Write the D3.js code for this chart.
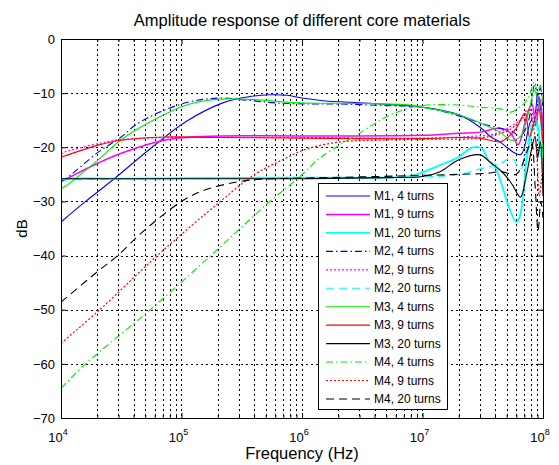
<!DOCTYPE html>
<html>
<head>
<meta charset="utf-8">
<script src="https://cdnjs.cloudflare.com/ajax/libs/d3/7.8.5/d3.min.js"></script>
<style>
  body { margin: 0; background: #fff; }
  text { font-family: Arial, "Liberation Sans", sans-serif; fill: #000; }
</style>
</head>
<body>
<div id="chart"></div>
<script>
// values: [frequency Hz, dB]
var m1_4 = [[1e4,-33.8],[1.6e4,-30],[2.7e4,-26],[5.7e4,-20],[1.1e5,-15.2],[2.2e5,-11.8],[3.5e5,-10.7],[5.4e5,-10.3],[7.5e5,-10.4],[1.0e6,-10.9],[1.5e6,-11.4],[2.1e6,-11.6],[4.5e6,-12.0],[1e7,-12.6],[2.0e7,-14.0],[3.0e7,-16.3],[3.7e7,-18.1],[4.4e7,-19.0],[5.0e7,-20],[5.9e7,-21.1],[6.6e7,-21.3],[7.8e7,-15.5],[8.6e7,-13.7],[9.0e7,-10.5],[9.5e7,-12.5],[1e8,-16.8]];
var m1_9 = [[1e4,-26.3],[1.07e4,-26],[2.04e4,-22.9],[3.16e4,-21.1],[7.2e4,-18.7],[1.5e5,-18.0],[1e6,-17.9],[1e7,-17.8],[2e7,-17.4],[3e7,-17.2],[4.4e7,-16.5],[5.4e7,-17.4],[6.2e7,-19.5],[7.3e7,-14.4],[8.1e7,-12],[8.7e7,-16],[9.4e7,-11],[1e8,-17]];
var m1_20 = [[1e4,-26.3],[1.1e4,-25.9],[3e4,-25.8],[1e5,-25.7],[1e6,-25.6],[5e6,-25.6],[8e6,-25.3],[1.4e7,-23.3],[2e7,-21.8],[2.6e7,-20.0],[3.1e7,-20.2],[3.5e7,-22.3],[4.0e7,-23.6],[4.5e7,-26.6],[5.2e7,-31],[6.0e7,-33.8],[6.4e7,-32.9],[6.9e7,-27.9],[7.3e7,-22.3],[8.1e7,-17],[8.8e7,-15],[9.4e7,-19],[1e8,-24.5]];
var m2_4 = [[1e4,-26.3],[1.07e4,-26],[2.04e4,-20.9],[3.16e4,-18.1],[4.2e4,-15.8],[6.6e4,-13.5],[1.17e5,-11.6],[2.1e5,-10.9],[3.5e5,-11.3],[6e5,-11.8],[1.2e6,-12.0],[2e6,-12.0],[5e6,-12.3],[1e7,-12.6],[2e7,-14.2],[3e7,-15.5],[4.4e7,-16.5],[5.5e7,-17],[6.5e7,-18],[7.6e7,-15],[8.5e7,-8.5],[9e7,-11],[9.5e7,-9],[1e8,-13]];
var m2_9 = [[1e4,-21.2],[1.07e4,-20.9],[2.04e4,-19.3],[3.16e4,-18.6],[7.2e4,-18.2],[1e6,-18.2],[1e7,-18.3],[2.5e7,-18],[4e7,-17.5],[5.5e7,-16],[7e7,-14.5],[7.9e7,-12.6],[8.5e7,-16],[9.2e7,-10.5],[1e8,-15]];
var m2_20 = [[1e4,-26],[1e5,-25.8],[1e6,-25.7],[1e7,-25.5],[2e7,-25],[3e7,-24],[4.4e7,-23],[5.5e7,-22],[6.5e7,-24],[7.5e7,-19],[8.5e7,-14],[9.3e7,-20],[1e8,-25]];
var m3_4 = [[1e4,-27.6],[1.07e4,-27.3],[2.04e4,-22.3],[3.16e4,-18.6],[6.3e4,-14.6],[1.17e5,-12.0],[2.1e5,-11.1],[4e5,-11.2],[9.5e5,-11.8],[3e6,-11.9],[8e6,-12.2],[1e7,-12.6],[2e7,-14.0],[3e7,-15.5],[4.4e7,-17.2],[5.4e7,-18.7],[6.5e7,-18],[7.5e7,-14],[8.5e7,-9.4],[9.2e7,-12],[1e8,-21.8]];
var m3_9 = [[1e4,-21.8],[1.07e4,-21.6],[2.04e4,-19.6],[3.16e4,-18.7],[7.2e4,-18.1],[2e5,-18.2],[1e6,-18.3],[1e7,-18.4],[2e7,-18.2],[3e7,-18.3],[4.4e7,-19],[5.2e7,-18],[6.0e7,-16.5],[7.1e7,-13.7],[7.7e7,-18],[8.5e7,-15],[9.2e7,-13],[1e8,-19.2]];
var m3_20 = [[1e4,-25.8],[1e5,-25.8],[1e6,-25.8],[5e6,-25.6],[1.0e7,-25.4],[1.4e7,-24.5],[2e7,-22.3],[3e7,-21.4],[3.7e7,-22.9],[4.4e7,-24.2],[5e7,-25.5],[5.6e7,-27],[6.5e7,-29.2],[7.3e7,-25],[8.1e7,-20],[8.6e7,-18],[9.0e7,-22],[9.5e7,-19],[1e8,-29]];
var m4_4 = [[1e4,-64.5],[1.6e4,-60],[5.5e4,-50],[1.75e5,-40],[3.1e5,-34.9],[5.6e5,-29.7],[7.9e5,-27],[1.1e6,-24.2],[1.4e6,-22],[3e6,-17.4],[5e6,-14.4],[7.9e6,-12.7],[1.1e7,-12.2],[2e7,-12.2],[3e7,-12.6],[4.4e7,-12.9],[5.4e7,-13.5],[6.5e7,-12.5],[7.5e7,-11],[8.5e7,-7.9],[9e7,-10],[9.5e7,-8.5],[1e8,-12.6]];
var m4_9 = [[1e4,-56.2],[2.1e4,-50],[6.3e4,-40],[2.1e5,-30],[4e5,-25.1],[6.9e5,-22.3],[1.1e6,-20.3],[2.1e6,-19],[4e6,-18.7],[1e7,-18.5],[2e7,-18.5],[3e7,-18.3],[4.4e7,-17.5],[5.5e7,-16.5],[6.5e7,-15],[7.5e7,-13],[8.1e7,-15],[8.8e7,-20],[9.3e7,-29],[9.7e7,-26],[1e8,-22]];
var m4_20 = [[1e4,-48.6],[2e4,-43],[2.95e4,-40],[5e4,-35.2],[1.05e5,-29.7],[1.6e5,-27.8],[2.9e5,-26.4],[4.5e5,-25.9],[1e6,-25.7],[1e7,-25.2],[2e7,-25],[3.4e7,-24.8],[4.5e7,-24.5],[6e7,-25],[7.3e7,-21],[8e7,-19],[8.6e7,-27],[9.1e7,-35.5],[9.6e7,-30],[1e8,-33]];

var seriesNames = ["M1, 4 turns","M1, 9 turns","M1, 20 turns","M2, 4 turns","M2, 9 turns","M2, 20 turns",
                   "M3, 4 turns","M3, 9 turns","M3, 20 turns","M4, 4 turns","M4, 9 turns","M4, 20 turns"];
var seriesData = [m1_4, m1_9, m1_20, m2_4, m2_9, m2_20, m3_4, m3_9, m3_20, m4_4, m4_9, m4_20];
var yTicks = [0,-10,-20,-30,-40,-50,-60,-70];
var xTicks = [1e4,1e5,1e6,1e7,1e8];
var xExponents = ["4","5","6","7","8"];

// line styles, same order as seriesNames
var styles = [
  {color:"#0000ff", dash:null, w:1.1},
  {color:"#ff00ff", dash:null, w:1.5},
  {color:"#00ffff", dash:null, w:1.8},
  {color:"#0000ff", dash:"7,3,1.5,3", w:1.1},
  {color:"#ff00ff", dash:"2,2", w:1.2},
  {color:"#00ffff", dash:"8,5", w:1.2},
  {color:"#00ee00", dash:null, w:1.1},
  {color:"#ff0000", dash:null, w:1.1},
  {color:"#000000", dash:null, w:1.1},
  {color:"#00ee00", dash:"7,3,1.5,3", w:1.1},
  {color:"#ff0000", dash:"2,2", w:1.2},
  {color:"#000000", dash:"8,5", w:1.1}
];

var margin = {top: 39, right: 16, bottom: 47, left: 61},
    width = 559 - margin.left - margin.right,
    height = 465 - margin.top - margin.bottom;

var x = d3.scaleLog().domain([1e4, 1e8]).range([0, width]);
var y = d3.scaleLinear().domain([-70, 0]).range([height, 0]);

var svg = d3.select("#chart").append("svg")
    .attr("width", 559)
    .attr("height", 465)
    .style("background", "#fff");

svg.append("text")
    .attr("x", margin.left + width / 2)
    .attr("y", 26)
    .attr("text-anchor", "middle")
    .style("font-size", "16.5px")
    .text("Amplitude response of different core materials");

var g = svg.append("g")
    .attr("transform", "translate(" + margin.left + "," + margin.top + ")");

// minor log values
var minor = [];
for (var d = 4; d < 8; d++) {
  for (var k = 2; k <= 9; k++) minor.push(k * Math.pow(10, d));
}

// grid
g.selectAll(".xgrid")
    .data(xTicks.concat(minor))
  .enter().append("line")
    .attr("class", "xgrid")
    .attr("x1", function(v) { return Math.round(x(v)) + 0.5; })
    .attr("x2", function(v) { return Math.round(x(v)) + 0.5; })
    .attr("y1", 0)
    .attr("y2", height)
    .attr("stroke", "#000")
    .attr("stroke-width", 1)
    .attr("stroke-dasharray", "2,3");

g.selectAll(".ygrid")
    .data(yTicks)
  .enter().append("line")
    .attr("class", "ygrid")
    .attr("x1", 0)
    .attr("x2", width)
    .attr("y1", function(v) { return Math.round(y(v)) + 0.5; })
    .attr("y2", function(v) { return Math.round(y(v)) + 0.5; })
    .attr("stroke", "#000")
    .attr("stroke-width", 1)
    .attr("stroke-dasharray", "2,3");

// curves
svg.append("defs").append("clipPath").attr("id", "clip")
  .append("rect").attr("width", width).attr("height", height);

var line = d3.line()
    .x(function(p) { return x(p[0]); })
    .y(function(p) { return y(p[1]); })
    .curve(d3.curveCatmullRom.alpha(0.5));

g.append("g").attr("clip-path", "url(#clip)")
  .selectAll("path")
    .data(seriesData)
  .enter().append("path")
    .attr("d", line)
    .attr("fill", "none")
    .attr("stroke", function(s, i) { return styles[i].color; })
    .attr("stroke-width", function(s, i) { return styles[i].w; })
    .attr("stroke-dasharray", function(s, i) { return styles[i].dash; });

// box + inside ticks
g.append("rect")
    .attr("x", 0.5).attr("y", 0.5)
    .attr("width", width).attr("height", height)
    .attr("fill", "none").attr("stroke", "#000");

var yAxisL = g.append("g")
    .call(d3.axisLeft(y).tickValues(yTicks).tickSize(-5).tickPadding(6).tickFormat(d3.format("d")));
var yAxisR = g.append("g")
    .attr("transform", "translate(" + width + ",0)")
    .call(d3.axisRight(y).tickValues(yTicks).tickSize(-5).tickFormat(""));
var xAxisB = g.append("g")
    .attr("transform", "translate(0," + height + ")")
    .call(d3.axisBottom(x).tickValues(xTicks).tickSize(-5).tickFormat(""));
var xAxisT = g.append("g")
    .call(d3.axisTop(x).tickValues(xTicks).tickSize(-5).tickFormat(""));
var xMinB = g.append("g")
    .attr("transform", "translate(0," + height + ")")
    .call(d3.axisBottom(x).tickValues(minor).tickSize(-3).tickFormat(""));
var xMinT = g.append("g")
    .call(d3.axisTop(x).tickValues(minor).tickSize(-3).tickFormat(""));

[yAxisL, yAxisR, xAxisB, xAxisT, xMinB, xMinT].forEach(function(a) {
  a.select(".domain").remove();
  a.selectAll("text").style("font-size", "13px").style("font-family", "Arial, 'Liberation Sans', sans-serif");
});

// x tick labels 10^n
var xl = g.selectAll(".xlab")
    .data(xTicks)
  .enter().append("text")
    .attr("class", "xlab")
    .attr("x", function(v) { return x(v) - 3; })
    .attr("y", height + 24)
    .attr("text-anchor", "middle")
    .style("font-size", "13px");
xl.append("tspan").text("10");
xl.append("tspan")
    .attr("dy", -7)
    .style("font-size", "9px")
    .text(function(v, i) { return xExponents[i]; });

svg.append("text")
    .attr("x", margin.left + width / 2)
    .attr("y", 459)
    .attr("text-anchor", "middle")
    .style("font-size", "16.5px")
    .text("Frequency (Hz)");

svg.append("text")
    .attr("transform", "translate(27," + (margin.top + height / 2) + ") rotate(-90)")
    .attr("text-anchor", "middle")
    .style("font-size", "15px")
    .text("dB");

// legend
var lx = 318 - margin.left, ly = 183 - margin.top;
var legend = g.append("g").attr("transform", "translate(" + lx + "," + ly + ")");
legend.append("rect")
    .attr("x", 0.5).attr("y", 0.5)
    .attr("width", 129).attr("height", 226)
    .attr("fill", "#fff").attr("stroke", "#000");

var entry = legend.selectAll(".entry")
    .data(seriesNames)
  .enter().append("g")
    .attr("class", "entry")
    .attr("transform", function(n, i) { return "translate(0," + (13 + i * 18.45) + ")"; });

entry.append("line")
    .attr("x1", 8).attr("x2", 52)
    .attr("y1", 0).attr("y2", 0)
    .attr("stroke", function(n, i) { return styles[i].color; })
    .attr("stroke-width", function(n, i) { return styles[i].w; })
    .attr("stroke-dasharray", function(n, i) { return styles[i].dash; });

entry.append("text")
    .attr("x", 56)
    .attr("y", 4)
    .style("font-size", "12px")
    .text(function(n) { return n; });
</script>
</body>
</html>
